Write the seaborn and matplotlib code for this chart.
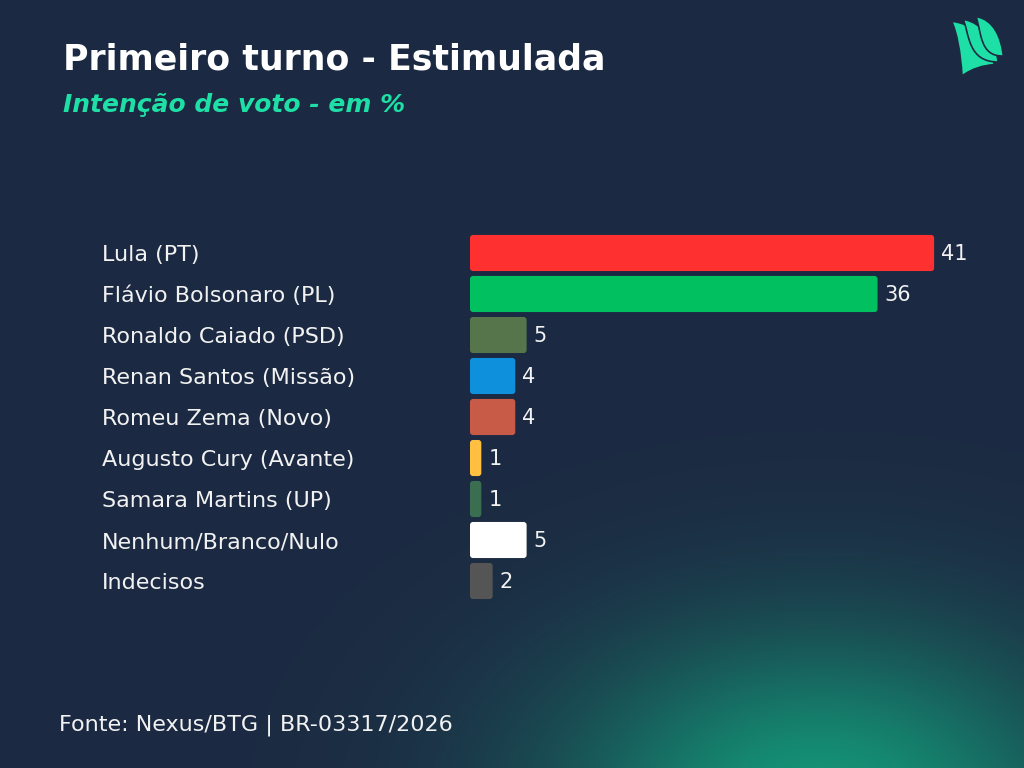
import numpy as np
import pandas as pd
import matplotlib
matplotlib.use("Agg")
import matplotlib.pyplot as plt
import matplotlib.transforms as mtransforms
from matplotlib.patches import FancyBboxPatch, PathPatch
from matplotlib.path import Path
import seaborn as sns

# ---- data ----
candidates = ["Lula (PT)", "Flávio Bolsonaro (PL)", "Ronaldo Caiado (PSD)",
              "Renan Santos (Missão)", "Romeu Zema (Novo)", "Augusto Cury (Avante)",
              "Samara Martins (UP)", "Nenhum/Branco/Nulo", "Indecisos"]
votes = [41, 36, 5, 4, 4, 1, 1, 5, 2]
bar_colors = ["#ff3030", "#00c060", "#56754a", "#0e90dc", "#c85a48",
              "#ffbf40", "#3b6e50", "#ffffff", "#555555"]
title = "Primeiro turno - Estimulada"
subtitle = "Intenção de voto - em %"
source = "Fonte: Nexus/BTG | BR-03317/2026"

BG = "#1c2a42"
TXT = "#f2f2f2"
ACCENT = "#1ee0a6"
FONT = "DejaVu Sans"

sns.set_theme(style="white")
plt.rcParams["font.family"] = [FONT]

W, H = 1024, 768
fig = plt.figure(figsize=(W / 100, H / 100), dpi=100)
fig.patch.set_facecolor(BG)

# ---- background with green glow ----
bg_ax = fig.add_axes([0, 0, 1, 1], zorder=-10)
yy, xx = np.mgrid[0:H, 0:W]
d = ((xx - 820) / 290.0) ** 2 + ((yy - 805) / 190.0) ** 2
a = 0.8 * np.exp(-d * 1.2)
base = np.array([0x1c, 0x2a, 0x42]) / 255.0
glow = np.array([0x12, 0xb0, 0x84]) / 255.0
img = base[None, None, :] * (1 - a[..., None]) + glow[None, None, :] * a[..., None]
bg_ax.imshow(img, extent=[0, W, H, 0], aspect="auto", interpolation="bilinear")
bg_ax.set_xlim(0, W)
bg_ax.set_ylim(H, 0)
bg_ax.axis("off")

# ---- bar chart ----
df = pd.DataFrame({"candidate": candidates, "votes": votes})
ax = fig.add_axes([470 / W, (H - 601.5) / H, 566 / W, 369 / H])
ax.set_facecolor("none")
sns.barplot(data=df, y="candidate", x="votes", hue="candidate",
            palette=bar_colors, order=candidates, hue_order=candidates,
            width=0.88, saturation=1, legend=False, ax=ax, orient="h")
ax.set_xlim(0, 50)
ax.set_ylim(len(candidates) - 0.5, -0.5)

# rounded corners (radius ~3 px)
x_px = 566 / 50.0
y_px = 369 / 9.0
for p in list(ax.patches):
    x0, y0 = p.get_x(), p.get_y()
    w, h = p.get_width(), p.get_height()
    fb = FancyBboxPatch((x0, y0), w, h,
                        boxstyle="round,pad=0,rounding_size=%f" % (3 / x_px),
                        mutation_aspect=x_px / y_px,
                        facecolor=p.get_facecolor(), edgecolor="none", zorder=2)
    p.set_visible(False)
    ax.add_patch(fb)

offset = mtransforms.ScaledTranslation(7 / 100, -1 / 100, fig.dpi_scale_trans)
for i, v in enumerate(votes):
    ax.text(v, i, str(v), color=TXT, fontsize=15, va="center", ha="left",
            transform=ax.transData + offset)

ax.set_xlabel("")
ax.set_ylabel("")
ax.set_xticks([])
ax.tick_params(axis="y", length=0, pad=(470 - 102) * 0.72, labelsize=16, labelcolor=TXT)
for lbl in ax.get_yticklabels():
    lbl.set_ha("left")
for s in ax.spines.values():
    s.set_visible(False)

# ---- texts ----
fig.text(63 / W, 1 - 70 / H, title, color="white", fontsize=25, fontweight="bold",
         ha="left", va="baseline")
fig.text(63 / W, 1 - 112 / H, subtitle, color=ACCENT, fontsize=18, fontweight="bold",
         style="italic", ha="left", va="baseline")
fig.text(59 / W, 1 - 731 / H, source, color=TXT, fontsize=16, ha="left", va="baseline")

# ---- logo (three sails, pixel coords) ----
lg = fig.add_axes([0, 0, 1, 1], zorder=5)
lg.set_xlim(0, W)
lg.set_ylim(H, 0)
lg.axis("off")

def mk(pts):
    verts = [(940 + x / 3.0, 12 + y / 3.0) for x, y in pts]
    codes = [Path.MOVETO] + [Path.CURVE4] * (len(pts) - 1)
    return Path(verts, codes)

sail_front = mk([(35, 28),
                 (50, 60), (62, 120), (66, 192),
                 (95, 170), (130, 160), (162, 158),
                 (155, 100), (110, 35), (35, 28)])
sail_mid = mk([(70, 22),
               (88, 70), (85, 150), (174, 150),
               (170, 95), (130, 32), (70, 22)])
sail_back = mk([(108, 14),
                (125, 60), (118, 134), (190, 132),
                (184, 78), (162, 22), (108, 14)])
for pth in [sail_front, sail_mid, sail_back]:
    lg.add_patch(PathPatch(pth, facecolor="#1ee0a6", edgecolor=BG, lw=1.2,
                           joinstyle="round"))

fig.savefig("out.png", dpi=100, facecolor=BG)
